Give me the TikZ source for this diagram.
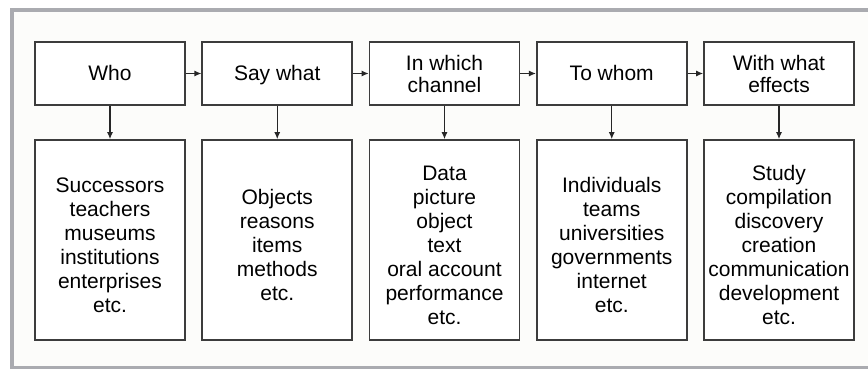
\documentclass[tikz,border=0pt]{standalone}
\usepackage{fontspec}
\setmainfont{Liberation Sans}
\usetikzlibrary{arrows.meta}
\definecolor{framegray}{RGB}{170,171,176}
\definecolor{boxline}{RGB}{60,60,60}
\definecolor{bgwhite}{RGB}{252,252,250}
\tikzset{
  topbox/.style={draw=boxline, line width=1.6pt, fill=white, minimum width=150pt, minimum height=63pt, align=center, font=\fontsize{21}{22}\selectfont, inner sep=0pt},
  oneline/.style={text height=15pt, text depth=0pt},
  botbox/.style={draw=boxline, line width=1.6pt, fill=white, minimum width=150pt, minimum height=200pt, inner sep=0pt},
  bottext/.style={align=center, font=\fontsize{21}{24}\selectfont, inner sep=0pt},
  conn/.style={draw=black!85, line width=1.2pt, -{Latex[length=7pt,width=6pt]}}
}
\begin{document}
\begin{tikzpicture}[x=1pt,y=-1pt]
\useasboundingbox (0,0) rectangle (868,369);
\fill[white] (0,0) rectangle (868,369);
\fill[bgwhite] (12,10) rectangle (868,367);
\draw[framegray, line width=4pt] (868,10) -- (12,10) -- (12,369);
\draw[framegray, line width=3pt] (12,367.5) -- (868,367.5);

\node[topbox, oneline] (t1) at (110,73.5) {Who};
\node[topbox, oneline] (t2) at (277.25,73.5) {Say what};
\node[topbox] (t3) at (444.5,73.5) {In which\\channel};
\node[topbox, oneline] (t4) at (611.75,73.5) {To whom};
\node[topbox] (t5) at (779,73.5) {With what\\effects};

\node[botbox] (b1) at (110,240) {};
\node[botbox] (b2) at (277.25,240) {};
\node[botbox] (b3) at (444.5,240) {};
\node[botbox] (b4) at (611.75,240) {};
\node[botbox] (b5) at (779,240) {};

\node[bottext] (x1) at ([yshift=-5pt]b1.center) {Successors\\teachers\\museums\\institutions\\enterprises\\etc.};
\node[bottext] (x2) at ([yshift=-5pt]b2.center) {Objects\\reasons\\items\\methods\\etc.};
\node[bottext] (x3) at ([yshift=-5pt]b3.center) {Data\\picture\\object\\text\\oral account\\performance\\etc.};
\node[bottext] (x4) at ([yshift=-5pt]b4.center) {Individuals\\teams\\universities\\governments\\internet\\etc.};
\node[bottext] (x5) at ([yshift=-5pt]b5.center) {Study\\compilation\\discovery\\creation\\communication\\development\\etc.};

\foreach \a/\b in {t1/t2,t2/t3,t3/t4,t4/t5}{
  \draw[conn] (\a.east) -- (\b.west);
}
\foreach \i in {1,...,5}{
  \draw[conn] (t\i.south) -- (b\i.north);
}
\end{tikzpicture}
\end{document}
